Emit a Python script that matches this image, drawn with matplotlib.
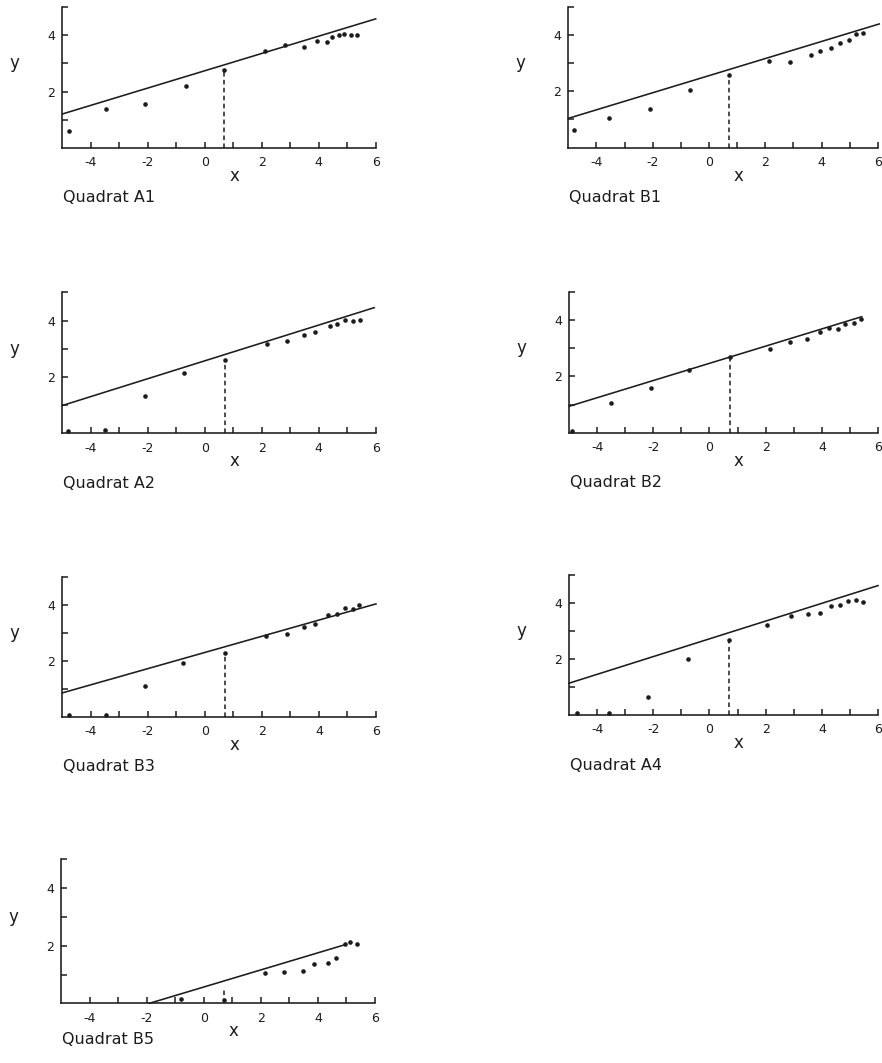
import matplotlib
matplotlib.use("Agg")
import matplotlib.pyplot as plt
import numpy as np

plt.rcParams['font.family'] = ['DejaVu Sans']
plt.rcParams['axes.unicode_minus'] = False

INK = '#1c1c1c'

# ---------------- data ----------------
names = ["A1", "B1", "A2", "B2", "B3", "A4", "B5"]

x_A1 = [-4.76, -3.47, -2.10, -0.65, 0.67, 2.12, 2.80, 3.49, 3.93, 4.28, 4.48, 4.72, 4.90, 5.13, 5.33]
y_A1 = [0.60, 1.38, 1.57, 2.19, 2.75, 3.43, 3.65, 3.57, 3.81, 3.78, 3.94, 4.00, 4.05, 4.00, 4.00]

x_B1 = [-4.81, -3.54, -2.09, -0.66, 0.71, 2.14, 2.87, 3.61, 3.94, 4.34, 4.65, 4.98, 5.24, 5.48]
y_B1 = [0.63, 1.04, 1.36, 2.05, 2.58, 3.08, 3.04, 3.29, 3.44, 3.54, 3.70, 3.82, 4.03, 4.08]

x_A2 = [-4.80, -3.51, -2.10, -0.74, 0.72, 2.19, 2.89, 3.50, 3.88, 4.39, 4.64, 4.91, 5.20, 5.44]
y_A2 = [0.08, 0.10, 1.34, 2.14, 2.59, 3.18, 3.29, 3.50, 3.58, 3.82, 3.89, 4.01, 4.00, 4.01]

x_B2 = [-4.91, -3.51, -2.07, -0.72, 0.72, 2.16, 2.87, 3.47, 3.92, 4.24, 4.57, 4.81, 5.15, 5.39]
y_B2 = [0.07, 1.06, 1.59, 2.24, 2.68, 2.98, 3.21, 3.33, 3.56, 3.71, 3.66, 3.86, 3.88, 4.04]

x_B3 = [-4.78, -3.46, -2.11, -0.76, 0.70, 2.13, 2.87, 3.47, 3.86, 4.33, 4.64, 4.91, 5.20, 5.40]
y_B3 = [0.06, 0.06, 1.08, 1.91, 2.29, 2.88, 2.94, 3.21, 3.32, 3.62, 3.67, 3.88, 3.86, 4.00]

x_A4 = [-4.71, -3.57, -2.17, -0.75, 0.68, 2.06, 2.90, 3.50, 3.95, 4.31, 4.63, 4.93, 5.23, 5.47]
y_A4 = [0.06, 0.06, 0.66, 2.00, 2.69, 3.20, 3.52, 3.62, 3.64, 3.88, 3.92, 4.06, 4.12, 4.03]

x_B5 = [-0.80, 0.70, 2.13, 2.81, 3.47, 3.85, 4.35, 4.65, 4.94, 5.14, 5.37]
y_B5 = [0.15, 0.12, 1.05, 1.10, 1.13, 1.38, 1.40, 1.56, 2.07, 2.12, 2.07]

xs = [x_A1, x_B1, x_A2, x_B2, x_B3, x_A4, x_B5]
ys = [y_A1, y_B1, y_A2, y_B2, y_B3, y_A4, y_B5]

# fitted straight lines: (x start, x end) and (intercept, slope)
fit_x0 = [-5.0, -5.0, -5.0, -5.0, -5.0, -5.0, -1.90]
fit_x1 = [6.0, 6.05, 5.95, 5.42, 6.0, 6.0, 4.98]
fit_a = [2.74, 2.555, 2.57, 2.46, 2.295, 2.72, 0.565]
fit_b = [0.308, 0.303, 0.317, 0.305, 0.289, 0.317, 0.297]

# dashed reference line at x ~ 0.7
dash_x = [0.67, 0.71, 0.72, 0.72, 0.70, 0.68, 0.70]
dash_top = [2.75, 2.58, 2.59, 2.68, 2.29, 2.69, 0.55]

xticks = [-4, -3, -2, -1, 0, 1, 2, 3, 4, 5, 6]
xticklabels = ["-4", "", "-2", "", "0", "", "2", "", "4", "", "6"]
yticks = [1, 2, 3, 4, 5]
yticklabels = ["", "2", "", "4", ""]

# ---------------- layout (pixels) ----------------
W, H = 882, 1063
# left, right, top(y=5), bottom(x axis)
boxes = [
    (62.3, 375.7, 7.3, 147.7),
    (568.3, 877.8, 6.7, 147.7),
    (62.3, 375.7, 292.3, 433.3),
    (569.0, 878.0, 291.7, 432.7),
    (62.3, 376.0, 576.7, 716.7),
    (569.0, 878.0, 575.0, 715.0),
    (61.0, 375.0, 859.3, 1003.3),
]
title_off = [50, 50, 50, 50, 50, 51, 36]

fig = plt.figure(figsize=(W / 100, H / 100), dpi=100)
fig.patch.set_facecolor('white')

PT = 0.72  # points per pixel at dpi 100

for i, name in enumerate(names):
    l, r, t, b = boxes[i]
    ax = fig.add_axes([l / W, 1 - b / H, (r - l) / W, (b - t) / H])
    ax.set_xlim(-5, 6)
    ax.set_ylim(0, 5)
    ax.patch.set_alpha(0)
    for s in ("top", "right"):
        ax.spines[s].set_visible(False)
    for s in ("left", "bottom"):
        ax.spines[s].set_color(INK)
        ax.spines[s].set_linewidth(1.15)
    ax.set_xticks(xticks)
    ax.set_xticklabels(xticklabels)
    ax.set_yticks(yticks)
    ax.set_yticklabels(yticklabels)
    ax.tick_params(direction='in', length=4, width=1.1, color=INK,
                   labelsize=9, labelcolor=INK)
    ax.tick_params(axis='x', pad=6)
    ax.tick_params(axis='y', pad=5)

    # fitted line
    lx = np.array([fit_x0[i], fit_x1[i]])
    ax.plot(lx, fit_a[i] + fit_b[i] * lx, color=INK, lw=1.15, clip_on=False)
    # dashed drop line
    ax.plot([dash_x[i], dash_x[i]], [0, dash_top[i]], color=INK, lw=1.1,
            ls=(0, (3, 2.2)), clip_on=False)
    # points
    ax.plot(xs[i], ys[i], 'o', color=INK, ms=3.3, mew=0, clip_on=False)

    # axis labels
    ax.annotate('x', xy=(1.05, 0), xycoords=('data', 'axes fraction'),
                xytext=(0, -28 * PT), textcoords='offset points',
                ha='center', va='center', fontsize=12, color=INK)
    ax.annotate('y', xy=(0, 3.0), xycoords=('axes fraction', 'data'),
                xytext=(-48 * PT, 0), textcoords='offset points',
                ha='center', va='center', fontsize=12, color=INK)
    ax.annotate('Quadrat ' + name, xy=(0, 0), xycoords='axes fraction',
                xytext=(1 * PT, -title_off[i] * PT), textcoords='offset points',
                ha='left', va='center', fontsize=11.5, color=INK)

fig.savefig('out.png', dpi=100, facecolor='white')
